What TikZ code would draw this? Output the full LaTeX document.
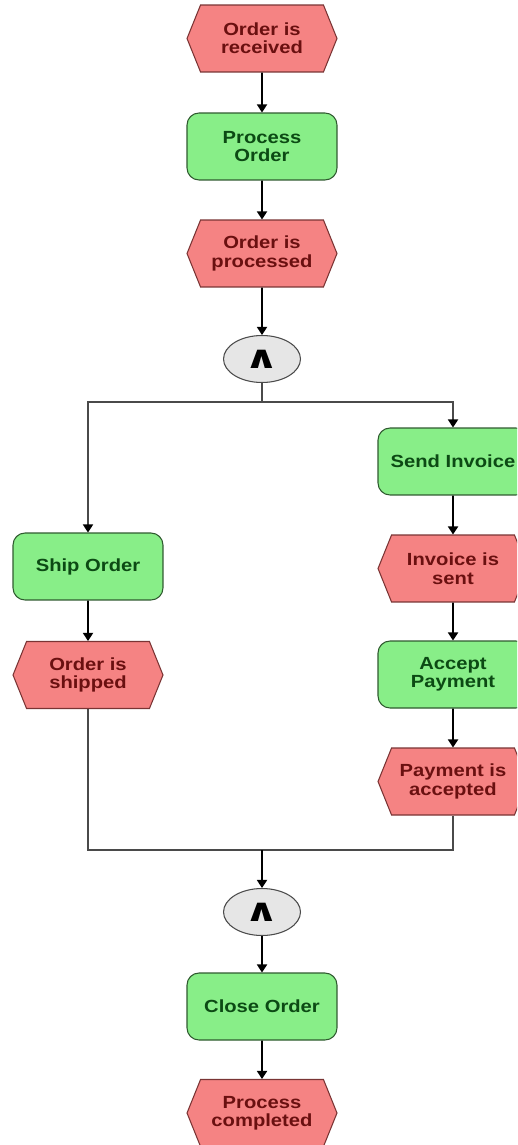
\documentclass[tikz,border=0pt]{standalone}
\usepackage{fontspec}
\setmainfont{Liberation Sans}[FakeStretch=1.15]
\newfontfamily\opfont{DejaVu Sans}
\usetikzlibrary{arrows.meta, shapes.symbols, shapes.geometric}

\definecolor{evfill}{HTML}{F58383}
\definecolor{evline}{HTML}{7A3434}
\definecolor{evtext}{HTML}{6A1010}
\definecolor{fnfill}{HTML}{88EE88}
\definecolor{fnline}{HTML}{2F5A2F}
\definecolor{fntext}{HTML}{0C4A14}
\definecolor{opfill}{HTML}{E6E6E6}
\definecolor{flow}{HTML}{4A4A4A}

\newcommand{\andsign}{\scalebox{1.35}[1]{∧}}

\tikzset{
  event/.style={signal, signal to=west and east, signal pointer angle=136,
    draw=evline, fill=evfill, text=evtext, line width=0.6pt,
    minimum width=3cm, minimum height=1.34cm, inner sep=0pt, align=center,
    font=\bfseries\fontsize{10}{10.5}\selectfont},
  func/.style={rectangle, rounded corners=0.24cm,
    draw=fnline, fill=fnfill, text=fntext, line width=0.6pt,
    minimum width=3cm, minimum height=1.34cm, inner sep=0pt, align=center,
    font=\bfseries\fontsize{10}{10.5}\selectfont},
  andop/.style={ellipse, draw=flow, fill=opfill, line width=0.6pt,
    minimum width=1.54cm, minimum height=0.94cm, inner sep=0pt,
    font=\opfont\bfseries\fontsize{18}{18}\selectfont},
  branch/.style={flow, -{Triangle[length=0.16cm, width=0.2cm, color=black]}}
}

\begin{document}
\begin{tikzpicture}[x=0.02cm, y=-0.02cm, line width=1pt,
    >={Triangle[length=0.16cm, width=0.2cm]}]
        \useasboundingbox (0,0) rectangle (517,1145);
        \clip (0,0) rectangle (517,1145);
%
        \node[event] (recv)    at (262,38.5)  {Order is\\received};
        \node[func]  (proc)    at (262,146.5) {Process\\Order};
        \node[event] (procd)   at (262,253.5) {Order is\\processed};
        \node[andop] (and1)    at (262,359)   {\andsign};
%
        \node[func]  (ship)    at (88,566.5) {Ship Order};
        \node[event] (shipped) at (88,675)   {Order is\\shipped};
%
        \node[func]  (inv)     at (453,461.5) {Send Invoice};
        \node[event] (sent)    at (453,568.5) {Invoice is\\sent};
        \node[func]  (acc)     at (453,674.5) {Accept\\Payment};
        \node[event] (paid)    at (453,781.5) {Payment is\\accepted};
%
        \node[andop] (and2)    at (262,912)    {\andsign};
        \node[func]  (close)   at (262,1006.5) {Close Order};
        \node[event] (done)    at (262,1113)   {Process\\completed};
%
        \coordinate (split) at (262,402);
        \coordinate (join)  at (262,850);
%
        \draw[->] (recv) -- (proc);
        \draw[->] (proc) -- (procd);
        \draw[->] (procd) -- (and1);
        \draw[flow] (and1) -- (split);
        \draw[branch] (split) -| (ship);
        \draw[branch] (split) -| (inv);
        \draw[->] (ship) -- (shipped);
        \draw[->] (inv) -- (sent);
        \draw[->] (sent) -- (acc);
        \draw[->] (acc) -- (paid);
        \draw[flow] (shipped) |- (join);
        \draw[flow] (paid) |- (join);
        \draw[->] (join) -- (and2);
        \draw[->] (and2) -- (close);
        \draw[->] (close) -- (done);
      \end{tikzpicture}
\end{document}
